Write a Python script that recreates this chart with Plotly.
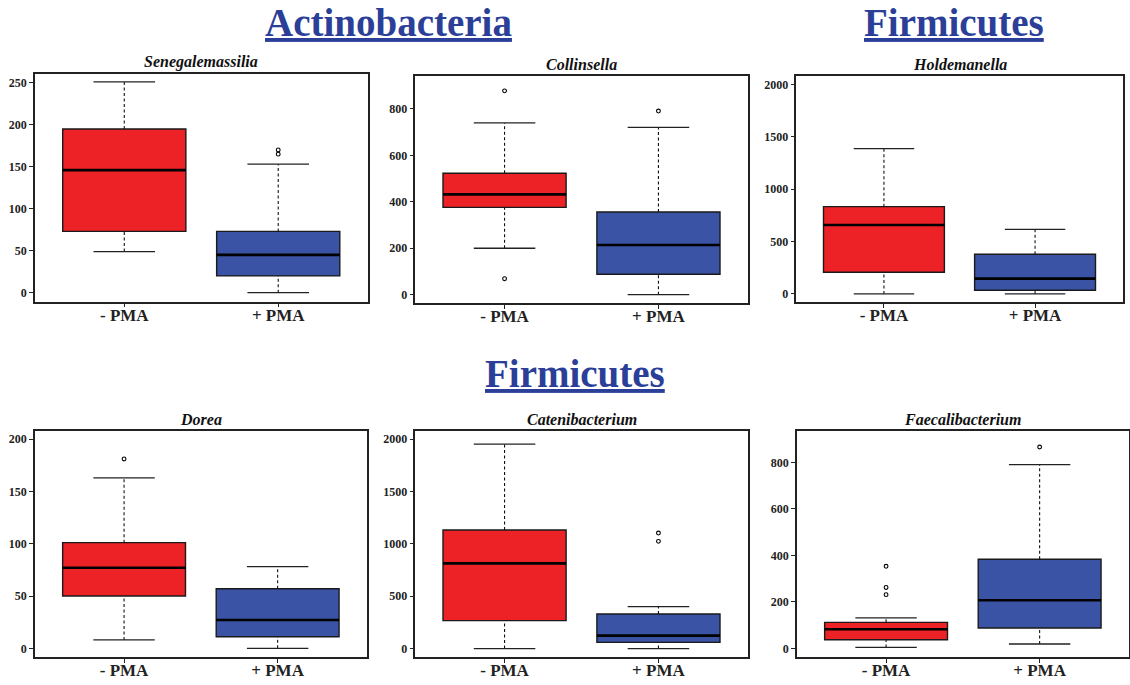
import plotly.graph_objects as go

W, H = 1130, 685

RED = "#EC2227"
BLUE = "#3A53A4"
HEAD_BLUE = "#2B3F98"
SERIF = "Liberation Serif"

groups = ["- PMA", "+ PMA"]
genera = ["Senegalemassilia", "Collinsella", "Holdemanella",
          "Dorea", "Catenibacterium", "Faecalibacterium"]

# per-genus box statistics, each entry is [- PMA, + PMA]
whisker_low = [[49, 0], [200, 0], [0, 0], [8, 0], [0, 0], [4, 19]]
q1 = [[73, 20], [376, 88], [207, 35], [50, 11], [267, 60], [37, 88]]
median = [[146, 45], [432, 214], [658, 146], [77, 27], [814, 124], [82, 207]]
q3 = [[195, 73], [523, 356], [833, 378], [101, 57], [1132, 331], [112, 383]]
whisker_high = [[251, 153], [740, 721], [1386, 617], [163, 78], [1952, 400], [131, 790]]
outliers = [
    [[], [165, 170]],
    [[69, 878], [791]],
    [[], []],
    [[181], []],
    [[], [1024, 1103]],
    [[231, 262, 353], [866]],
]

y_ticks = [
    [0, 50, 100, 150, 200, 250],
    [0, 200, 400, 600, 800],
    [0, 500, 1000, 1500, 2000],
    [0, 50, 100, 150, 200],
    [0, 500, 1000, 1500, 2000],
    [0, 200, 400, 600, 800],
]
y_ranges = [[-10.7, 261], [-37, 942], [-80, 2080], [-8.3, 208], [-80, 2080], [-37, 936]]

# panel frames in pixels: x0, x1, y0(top), y1(bottom)
frames = [
    (35, 367.5, 73.5, 301.7),
    (415.3, 747.7, 76, 303.3),
    (796.3, 1122.7, 76, 302.3),
    (35, 366.7, 430.7, 657),
    (415.3, 747.7, 430.7, 657),
    (797, 1128.7, 430.7, 657),
]

BOX_W = 0.8
CAP_W = 0.4
colors = [RED, BLUE]

fig = go.Figure()
layout = {}

for p, name in enumerate(genera):
    ax = "" if p == 0 else str(p + 1)
    xa, ya = "x" + ax, "y" + ax
    for g in range(2):
        c = g + 1
        fig.add_trace(go.Box(
            x=[c], q1=[q1[p][g]], median=[median[p][g]], q3=[q3[p][g]],
            lowerfence=[q1[p][g]], upperfence=[q3[p][g]],
            width=BOX_W, fillcolor=colors[g], boxpoints=False,
            line=dict(color="#1a1a1a", width=1.4),
            whiskerwidth=0, xaxis=xa, yaxis=ya, showlegend=False,
            hoverinfo="skip"))
        # dashed whiskers
        for a, b in ((q3[p][g], whisker_high[p][g]), (whisker_low[p][g], q1[p][g])):
            fig.add_trace(go.Scatter(
                x=[c, c], y=[a, b], mode="lines",
                line=dict(color="#111", width=1.1, dash="3px,2.5px"),
                xaxis=xa, yaxis=ya, showlegend=False, hoverinfo="skip"))
        # whisker staples
        for v in (whisker_low[p][g], whisker_high[p][g]):
            fig.add_trace(go.Scatter(
                x=[c - CAP_W / 2, c + CAP_W / 2], y=[v, v], mode="lines",
                line=dict(color="#222", width=1.3),
                xaxis=xa, yaxis=ya, showlegend=False, hoverinfo="skip"))
        # bold median bar
        fig.add_trace(go.Scatter(
            x=[c - BOX_W / 2, c + BOX_W / 2], y=[median[p][g]] * 2, mode="lines",
            line=dict(color="#000", width=2.6),
            xaxis=xa, yaxis=ya, showlegend=False, hoverinfo="skip"))
        if outliers[p][g]:
            fig.add_trace(go.Scatter(
                x=[c] * len(outliers[p][g]), y=outliers[p][g], mode="markers",
                marker=dict(symbol="circle-open", size=3.8, color="#000",
                            line=dict(width=1.1)),
                xaxis=xa, yaxis=ya, showlegend=False, hoverinfo="skip"))

    x0, x1, y0, y1 = frames[p]
    axis_common = dict(showline=True, mirror=True, linecolor="#222", linewidth=1.5,
                       ticks="outside", ticklen=4, tickcolor="#222", tickwidth=1,
                       showgrid=False, zeroline=False, fixedrange=True)
    layout["xaxis" + ax] = dict(
        domain=[x0 / W, x1 / W], range=[0.42, 2.58], anchor=ya,
        tickvals=[1, 2], ticktext=groups, ticklabelstandoff=-7,
        tickfont=dict(family=SERIF, size=17, color="#222", weight="bold"),
        **axis_common)
    layout["yaxis" + ax] = dict(
        domain=[1 - y1 / H, 1 - y0 / H], range=y_ranges[p], anchor=xa,
        tickvals=y_ticks[p], ticktext=[str(t) for t in y_ticks[p]],
        tickfont=dict(family=SERIF, size=12, color="#222", weight="bold"),
        **axis_common)

annotations = []
for p, name in enumerate(genera):
    x0, x1, y0, y1 = frames[p]
    annotations.append(dict(
        text="<b><i>" + name + "</i></b>", xref="paper", yref="paper",
        x=(x0 + x1) / 2 / W, y=1 - (y0 - 1) / H, xanchor="center", yanchor="bottom",
        showarrow=False, font=dict(family=SERIF, size=16, color="#111")))

phyla = [("Actinobacteria", 388, 22), ("Firmicutes", 954, 22), ("Firmicutes", 575, 374)]
for label, px, py in phyla:
    annotations.append(dict(
        text="<b><u>" + label + "</u></b>", xref="paper", yref="paper",
        x=px / W, y=1 - py / H, xanchor="center", yanchor="middle",
        showarrow=False, font=dict(family=SERIF, size=39, color=HEAD_BLUE)))

fig.update_layout(
    width=W, height=H, margin=dict(l=0, r=0, t=0, b=0),
    paper_bgcolor="white", plot_bgcolor="white",
    annotations=annotations, **layout)

fig.write_html("out.html", config={"displayModeBar": False})
